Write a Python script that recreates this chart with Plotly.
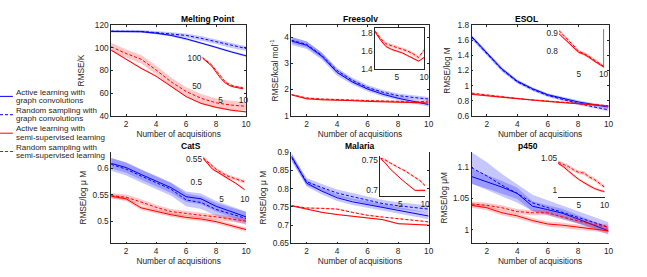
import plotly.graph_objects as go

W, H = 647, 277

X = [1, 2, 3, 4, 5, 6, 7, 8, 9, 10]

# ---- Melting Point ----
MP_AL_GC = [114.5, 114.5, 114.3, 113.0, 111.0, 108.0, 104.5, 100.5, 96.5, 93.0]
MP_AL_GC_SD = [0.8, 0.8, 0.8, 0.9, 0.9, 1.0, 1.0, 1.0, 1.0, 1.0]
MP_RS_GC = [114.8, 114.8, 114.5, 113.5, 112.5, 111.0, 108.5, 105.5, 102.0, 99.5]
MP_RS_GC_SD = [1.0, 1.0, 1.2, 1.4, 1.6, 1.8, 2.0, 2.0, 2.0, 2.0]
MP_AL_SSL = [98.0, 90.0, 82.0, 75.0, 66.0, 57.0, 51.0, 47.5, 45.0, 43.5]
MP_AL_SSL_SD = [0.8, 0.8, 0.8, 0.8, 0.8, 0.8, 0.8, 0.8, 0.8, 0.8]
MP_RS_SSL = [101.0, 95.0, 90.0, 80.5, 70.0, 61.5, 55.5, 51.5, 49.5, 48.5]
MP_RS_SSL_SD = [3.5, 3.5, 3.8, 3.8, 3.8, 3.8, 3.8, 3.8, 3.8, 3.8]
MP_IN_AL = [100.0, 93.0, 86.0, 75.0, 64.0, 56.0, 51.0, 48.5, 47.0, 45.5]
MP_IN_AL_SD = [0.8, 0.8, 0.8, 0.8, 0.8, 0.8, 0.8, 0.8, 0.8, 0.8]
MP_IN_RS = [101.0, 95.0, 88.0, 78.0, 67.0, 58.0, 53.0, 50.0, 48.5, 47.0]
MP_IN_RS_SD = [2.0, 2.0, 2.0, 2.0, 2.0, 2.0, 2.0, 2.0, 2.0, 2.0]

# ---- Freesolv ----
FS_AL_GC = [3.85, 3.69, 3.27, 2.65, 2.29, 2.02, 1.82, 1.67, 1.55, 1.43]
FS_AL_GC_SD = [0.15, 0.14, 0.13, 0.12, 0.10, 0.09, 0.08, 0.08, 0.08, 0.08]
FS_RS_GC = [3.88, 3.72, 3.30, 2.72, 2.35, 2.08, 1.90, 1.77, 1.70, 1.64]
FS_RS_GC_SD = [0.12, 0.12, 0.11, 0.10, 0.10, 0.09, 0.08, 0.08, 0.08, 0.08]
FS_AL_SSL = [1.80, 1.65, 1.61, 1.60, 1.58, 1.55, 1.54, 1.53, 1.50, 1.49]
FS_AL_SSL_SD = [0.03, 0.03, 0.03, 0.03, 0.03, 0.03, 0.03, 0.03, 0.03, 0.03]
FS_RS_SSL = [1.81, 1.68, 1.64, 1.61, 1.60, 1.58, 1.57, 1.55, 1.52, 1.56]
FS_RS_SSL_SD = [0.03, 0.03, 0.03, 0.03, 0.03, 0.03, 0.03, 0.03, 0.03, 0.03]
FS_IN_AL = [1.81, 1.72, 1.65, 1.62, 1.60, 1.58, 1.55, 1.52, 1.49, 1.53]
FS_IN_AL_SD = [0.012, 0.012, 0.012, 0.012, 0.012, 0.012, 0.012, 0.012, 0.012, 0.012]
FS_IN_RS = [1.82, 1.74, 1.68, 1.66, 1.64, 1.62, 1.60, 1.57, 1.53, 1.61]
FS_IN_RS_SD = [0.02, 0.02, 0.02, 0.02, 0.02, 0.02, 0.02, 0.02, 0.02, 0.02]

# ---- ESOL ----
ES_AL_GC = [1.65, 1.43, 1.22, 1.06, 0.96, 0.88, 0.83, 0.785, 0.75, 0.715]
ES_AL_GC_SD = [0.025, 0.025, 0.025, 0.022, 0.02, 0.02, 0.02, 0.02, 0.02, 0.02]
ES_RS_GC = [1.64, 1.42, 1.21, 1.05, 0.95, 0.87, 0.815, 0.765, 0.72, 0.68]
ES_RS_GC_SD = [0.025, 0.025, 0.025, 0.022, 0.02, 0.02, 0.02, 0.02, 0.02, 0.02]
ES_AL_SSL = [0.885, 0.865, 0.845, 0.825, 0.805, 0.79, 0.775, 0.76, 0.745, 0.73]
ES_AL_SSL_SD = [0.008, 0.008, 0.008, 0.008, 0.008, 0.008, 0.008, 0.008, 0.008, 0.008]
ES_RS_SSL = [0.90, 0.875, 0.85, 0.83, 0.81, 0.795, 0.78, 0.765, 0.75, 0.735]
ES_RS_SSL_SD = [0.012, 0.012, 0.012, 0.01, 0.01, 0.01, 0.01, 0.01, 0.01, 0.01]
ES_IN_AL = [0.895, 0.87, 0.845, 0.815, 0.795, 0.785, 0.77, 0.75, 0.735, 0.717]
ES_IN_AL_SD = [0.006, 0.006, 0.006, 0.006, 0.006, 0.006, 0.006, 0.006, 0.006, 0.006]
ES_IN_RS = [0.912, 0.885, 0.86, 0.83, 0.80, 0.79, 0.775, 0.755, 0.738, 0.72]
ES_IN_RS_SD = [0.01, 0.01, 0.01, 0.008, 0.008, 0.008, 0.008, 0.008, 0.008, 0.008]

# ---- CatS ----
CS_AL_GC = [0.609, 0.601, 0.588, 0.575, 0.563, 0.546, 0.542, 0.528, 0.518, 0.508]
CS_AL_GC_SD = [0.010, 0.010, 0.010, 0.010, 0.010, 0.010, 0.010, 0.010, 0.010, 0.010]
CS_RS_GC = [0.607, 0.598, 0.585, 0.572, 0.560, 0.540, 0.535, 0.522, 0.513, 0.505]
CS_RS_GC_SD = [0.012, 0.012, 0.012, 0.012, 0.012, 0.012, 0.012, 0.012, 0.012, 0.012]
CS_AL_SSL = [0.547, 0.542, 0.525, 0.518, 0.512, 0.507, 0.504, 0.499, 0.492, 0.484]
CS_AL_SSL_SD = [0.004, 0.004, 0.004, 0.004, 0.004, 0.004, 0.004, 0.004, 0.004, 0.004]
CS_RS_SSL = [0.548, 0.545, 0.536, 0.526, 0.518, 0.514, 0.511, 0.508, 0.504, 0.500]
CS_RS_SSL_SD = [0.005, 0.005, 0.005, 0.005, 0.005, 0.005, 0.005, 0.005, 0.005, 0.005]
CS_IN_AL = [0.552, 0.540, 0.528, 0.522, 0.515, 0.508, 0.503, 0.497, 0.490, 0.482]
CS_IN_AL_SD = [0.002, 0.002, 0.002, 0.002, 0.002, 0.002, 0.002, 0.002, 0.002, 0.002]
CS_IN_RS = [0.553, 0.545, 0.535, 0.526, 0.519, 0.514, 0.510, 0.506, 0.503, 0.500]
CS_IN_RS_SD = [0.004, 0.004, 0.004, 0.004, 0.004, 0.004, 0.004, 0.004, 0.004, 0.004]

# ---- Malaria ----
ML_AL_GC = [0.889, 0.815, 0.793, 0.775, 0.764, 0.756, 0.747, 0.740, 0.733, 0.725]
ML_AL_GC_SD = [0.010, 0.009, 0.009, 0.009, 0.009, 0.009, 0.009, 0.009, 0.009, 0.009]
ML_RS_GC = [0.885, 0.819, 0.803, 0.788, 0.778, 0.768, 0.759, 0.753, 0.749, 0.744]
ML_RS_GC_SD = [0.010, 0.010, 0.010, 0.010, 0.010, 0.010, 0.010, 0.010, 0.010, 0.010]
ML_AL_SSL = [0.753, 0.744, 0.735, 0.729, 0.725, 0.720, 0.715, 0.704, 0.703, 0.700]
ML_AL_SSL_SD = [0.002, 0.002, 0.002, 0.002, 0.002, 0.002, 0.002, 0.002, 0.002, 0.002]
ML_RS_SSL = [0.753, 0.747, 0.746, 0.744, 0.735, 0.727, 0.722, 0.718, 0.715, 0.709]
ML_RS_SSL_SD = [0.002, 0.002, 0.002, 0.002, 0.002, 0.002, 0.002, 0.002, 0.002, 0.002]
ML_IN_AL = [0.752, 0.745, 0.735, 0.727, 0.720, 0.713, 0.706, 0.700, 0.700, 0.700]
ML_IN_AL_SD = [0.001, 0.001, 0.001, 0.001, 0.001, 0.001, 0.001, 0.001, 0.002, 0.002]
ML_IN_RS = [0.753, 0.750, 0.745, 0.740, 0.736, 0.732, 0.727, 0.722, 0.716, 0.708]
ML_IN_RS_SD = [0.002, 0.002, 0.002, 0.002, 0.002, 0.002, 0.002, 0.002, 0.002, 0.002]

# ---- p450 ----
P4_AL_GC = [1.085, 1.077, 1.068, 1.058, 1.0375, 1.032, 1.026, 1.017, 1.007, 0.998]
P4_AL_GC_SD = [0.012, 0.011, 0.010, 0.009, 0.008, 0.007, 0.007, 0.006, 0.006, 0.006]
P4_RS_GC = [1.099, 1.086, 1.071, 1.058, 1.043, 1.035, 1.027, 1.020, 1.012, 1.004]
P4_RS_GC_SD = [0.025, 0.022, 0.018, 0.015, 0.013, 0.012, 0.011, 0.010, 0.009, 0.008]
P4_AL_SSL = [1.039, 1.035, 1.027, 1.022, 1.0145, 1.009, 1.007, 1.004, 1.002, 0.998]
P4_AL_SSL_SD = [0.004, 0.004, 0.004, 0.004, 0.004, 0.004, 0.004, 0.004, 0.004, 0.004]
P4_RS_SSL = [1.041, 1.039, 1.035, 1.029, 1.027, 1.027, 1.020, 1.0145, 1.008, 1.004]
P4_RS_SSL_SD = [0.004, 0.004, 0.004, 0.004, 0.004, 0.004, 0.004, 0.004, 0.004, 0.004]
P4_IN_AL = [1.041, 1.036, 1.029, 1.022, 1.016, 1.011, 1.006, 1.002, 0.999, 0.997]
P4_IN_AL_SD = [0.002, 0.002, 0.002, 0.002, 0.002, 0.002, 0.002, 0.002, 0.002, 0.002]
P4_IN_RS = [1.043, 1.040, 1.036, 1.031, 1.027, 1.026, 1.020, 1.016, 1.010, 1.004]
P4_IN_RS_SD = [0.003, 0.003, 0.003, 0.003, 0.003, 0.003, 0.003, 0.003, 0.003, 0.003]

TITLES = ["Melting Point", "Freesolv", "ESOL", "CatS", "Malaria", "p450"]
YTITLES = ["RMSE/K", "RMSE/kcal mol<sup>-1</sup>", "RMSE/log M",
           "RMSE/log \u03bc M", "RMSE/log \u03bc M", "RMSE/log \u03bcM"]
XTITLE = "Number of acquisitions"
XTICKS = [2, 4, 6, 8, 10]
YTICKS = [[40, 60, 80, 100, 120], [1, 2, 3, 4],
          [0.6, 0.8, 1.0, 1.2, 1.4, 1.6, 1.8], [0.5, 0.55, 0.6],
          [0.65, 0.7, 0.75, 0.8, 0.85, 0.9], [1.0, 1.05, 1.1]]
YTICKTEXT = [["40", "60", "80", "100", "120"], ["1", "2", "3", "4"],
             ["0.6", "0.8", "1", "1.2", "1.4", "1.6", "1.8"], ["0.5", "0.55", "0.6"],
             ["0.65", "0.7", "0.75", "0.8", "0.85", "0.9"], ["1", "1.05", "1.1"]]
YRANGES = [[40, 120], [1, 4.45], [0.6, 1.8], [0.458, 0.63], [0.65, 0.9], [0.978, 1.124]]
INSET_YTICKS = [[50, 100], [1.4, 1.6, 1.8], [0.8, 0.9], [0.5, 0.55], [0.7, 0.75], [1.0, 1.05]]
INSET_YTICKTEXT = [["50", "100"], ["1.4", "1.6", "1.8"], ["0.8", "0.9"], ["0.5", "0.55"],
                   ["0.7", "0.75"], ["1", "1.05"]]
INSET_YRANGES = [[36.9, 108.5], [1.4, 1.853], [0.713, 0.92], [0.475, 0.5564],
                 [0.6905, 0.7559], [0.9885, 1.052]]
INSET_XTICKS = [5, 10]
LEGEND_LABELS = [["Active learning with", "graph convolutions"],
                 ["Random sampling with", "graph convolutions"],
                 ["Active learning with", "semi-supervised learning"],
                 ["Random sampling with", "semi-supervised learning"]]

MAIN = [
    (MP_AL_GC, MP_AL_GC_SD, MP_RS_GC, MP_RS_GC_SD, MP_AL_SSL, MP_AL_SSL_SD, MP_RS_SSL, MP_RS_SSL_SD),
    (FS_AL_GC, FS_AL_GC_SD, FS_RS_GC, FS_RS_GC_SD, FS_AL_SSL, FS_AL_SSL_SD, FS_RS_SSL, FS_RS_SSL_SD),
    (ES_AL_GC, ES_AL_GC_SD, ES_RS_GC, ES_RS_GC_SD, ES_AL_SSL, ES_AL_SSL_SD, ES_RS_SSL, ES_RS_SSL_SD),
    (CS_AL_GC, CS_AL_GC_SD, CS_RS_GC, CS_RS_GC_SD, CS_AL_SSL, CS_AL_SSL_SD, CS_RS_SSL, CS_RS_SSL_SD),
    (ML_AL_GC, ML_AL_GC_SD, ML_RS_GC, ML_RS_GC_SD, ML_AL_SSL, ML_AL_SSL_SD, ML_RS_SSL, ML_RS_SSL_SD),
    (P4_AL_GC, P4_AL_GC_SD, P4_RS_GC, P4_RS_GC_SD, P4_AL_SSL, P4_AL_SSL_SD, P4_RS_SSL, P4_RS_SSL_SD),
]
INSETS = [
    (MP_IN_AL, MP_IN_AL_SD, MP_IN_RS, MP_IN_RS_SD),
    (FS_IN_AL, FS_IN_AL_SD, FS_IN_RS, FS_IN_RS_SD),
    (ES_IN_AL, ES_IN_AL_SD, ES_IN_RS, ES_IN_RS_SD),
    (CS_IN_AL, CS_IN_AL_SD, CS_IN_RS, CS_IN_RS_SD),
    (ML_IN_AL, ML_IN_AL_SD, ML_IN_RS, ML_IN_RS_SD),
    (P4_IN_AL, P4_IN_AL_SD, P4_IN_RS, P4_IN_RS_SD),
]

# ---- layout geometry (pixels) ----
MAIN_BOX = [(112, 248, 21, 115), (293.7, 432, 21, 115), (475.3, 613.3, 21, 115),
            (112, 248, 152.7, 247.3), (293.7, 432, 152.7, 247.3), (475.3, 613.3, 152.7, 247.3)]
INSET_BOX = [(204, 245.3, 50, 92), (378.1, 427.3, 24, 66.7), (563.3, 608.3, 25, 65),
             (204.7, 246.7, 157, 195), (383.3, 428.3, 157, 198.3), (562.5, 609.3, 157, 199.3)]
YTITLE_STANDOFF = [8, 4, 5, 4, 4, 4]

BLUE = "rgb(0,0,255)"
RED = "rgb(255,0,0)"
BLUE_F = "rgba(0,0,255,0.22)"
RED_F = "rgba(255,0,0,0.22)"
AX = "#262626"
FONT = "Liberation Sans, Arial, Helvetica, sans-serif"
DASH = "3px,2px"


def px2x(p):
    return p / W


def px2y(p):
    return 1 - p / H


fig = go.Figure()


def add_series(n, y, sd, color, fill, dash):
    up = [a + b for a, b in zip(y, sd)]
    lo = [a - b for a, b in zip(y, sd)]
    ax = "" if n == 1 else str(n)
    fig.add_trace(go.Scatter(x=X + X[::-1], y=up + lo[::-1], fill="toself", fillcolor=fill,
                             line=dict(width=0), mode="lines", hoverinfo="skip",
                             showlegend=False, xaxis="x" + ax, yaxis="y" + ax))
    fig.add_trace(go.Scatter(x=X, y=y, mode="lines", line=dict(color=color, width=1, dash=dash),
                             showlegend=False, xaxis="x" + ax, yaxis="y" + ax))


layout = dict(width=W, height=H, margin=dict(l=0, r=0, t=0, b=0),
              paper_bgcolor="white", plot_bgcolor="rgba(0,0,0,0)",
              font=dict(family=FONT, size=8, color=AX), showlegend=False)
annotations = []
shapes = []

for i in range(6):
    n = i + 1
    al, als, rs, rss, als2, alss, rs2, rss2 = MAIN[i]
    add_series(n, rs, rss, BLUE, BLUE_F, DASH)
    add_series(n, al, als, BLUE, BLUE_F, "solid")
    add_series(n, rs2, rss2, RED, RED_F, DASH)
    add_series(n, als2, alss, RED, RED_F, "solid")
    x0, x1, y0, y1 = MAIN_BOX[i]
    ax = "" if n == 1 else str(n)
    top = i < 3
    layout["xaxis" + ax] = dict(domain=[px2x(x0), px2x(x1)], range=[1, 10], anchor="y" + ax,
                                tickvals=XTICKS, ticks="inside", ticklen=2, tickwidth=0.6,
                                tickcolor=AX, showline=True, linecolor=AX, linewidth=0.6,
                                mirror="ticks" if top else False, showgrid=False, zeroline=False,
                                tickfont=dict(size=8.3, color=AX),
                                title=dict(text=XTITLE, font=dict(size=8.3, color=AX), standoff=2))
    layout["yaxis" + ax] = dict(domain=[px2y(y1), px2y(y0)], range=YRANGES[i], anchor="x" + ax,
                                tickvals=YTICKS[i], ticktext=YTICKTEXT[i], ticks="inside",
                                ticklen=2, tickwidth=0.6, tickcolor=AX, showline=True,
                                linecolor=AX, linewidth=0.6,
                                mirror="ticks" if (top or i == 4) else False,
                                showgrid=False, zeroline=False,
                                tickfont=dict(size=8.3, color=AX),
                                title=dict(text=YTITLES[i], font=dict(size=8.3, color=AX),
                                           standoff=YTITLE_STANDOFF[i]))
    annotations.append(dict(text="<b>" + TITLES[i] + "</b>", x=px2x((x0 + x1) / 2), y=px2y(y0 - 6),
                            xref="paper", yref="paper", showarrow=False, yanchor="middle",
                            font=dict(size=8.5, color="black")))

# insets
for i in range(6):
    n = i + 7
    al, als, rs, rss = INSETS[i]
    add_series(n, rs, rss, RED, RED_F, DASH)
    add_series(n, al, als, RED, RED_F, "solid")
    x0, x1, y0, y1 = INSET_BOX[i]
    ax = str(n)
    xline = i in (1, 4, 5)
    yline = i in (1, 4)
    layout["xaxis" + ax] = dict(domain=[px2x(x0), px2x(x1)], range=[1, 10], anchor="y" + ax,
                                tickvals=INSET_XTICKS, ticks="", showline=xline,
                                linecolor=AX, linewidth=0.6, mirror=(i == 1),
                                showgrid=False, zeroline=False,
                                tickfont=dict(size=8.3, color=AX))
    layout["yaxis" + ax] = dict(domain=[px2y(y1), px2y(y0)], range=INSET_YRANGES[i], anchor="x" + ax,
                                tickvals=INSET_YTICKS[i], ticktext=INSET_YTICKTEXT[i],
                                ticks="", showline=yline, linecolor=AX, linewidth=0.6,
                                mirror=(i == 1), showgrid=False, zeroline=False,
                                tickfont=dict(size=8.3, color=AX))
    if i == 2:
        shapes.append(dict(type="line", xref="x9 domain", yref="y9 domain", x0=1, x1=1, y0=0, y1=1,
                           line=dict(color=AX, width=0.6)))

# legend drawn manually
LEG_CENTERS = [94.8, 113.8, 133.0, 152.0]
LEG_STYLE = [(BLUE, "solid"), (BLUE, DASH), (RED, "solid"), (RED, DASH)]
for k, (c, lab) in enumerate(zip(LEG_CENTERS, LEGEND_LABELS)):
    col, d = LEG_STYLE[k]
    shapes.append(dict(type="line", xref="paper", yref="paper", x0=px2x(0), x1=px2x(13),
                       y0=px2y(c), y1=px2y(c), line=dict(color=col, width=1, dash=d)))
    for j, t in enumerate(lab):
        annotations.append(dict(text=t, x=px2x(14), y=px2y(c - 4.4 + 8.8 * j), xref="paper",
                                yref="paper", xanchor="left", yanchor="middle", showarrow=False,
                                font=dict(size=8, color=AX)))

layout["annotations"] = annotations
layout["shapes"] = shapes
fig.update_layout(**layout)
fig.write_html("out.html", config={"displayModeBar": False},
               post_script="document.body.style.margin='0';document.body.style.padding='0';")
